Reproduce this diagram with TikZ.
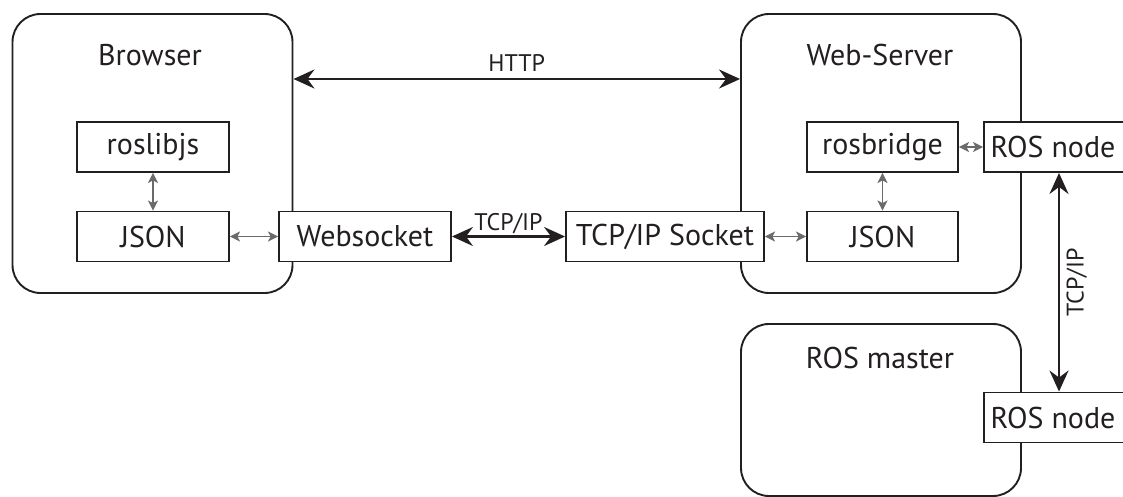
\documentclass[tikz,border=0pt]{standalone}
\usepackage{fontspec}
\setmainfont{PT Sans}
\usetikzlibrary{arrows.meta}
\definecolor{garrow}{HTML}{6A6A6A}
\definecolor{ink}{HTML}{231F20}
\begin{document}
\begin{tikzpicture}[x=1pt,y=-1pt,
  big/.style={draw=ink, line width=1.9pt, rounded corners=28pt, inner sep=0pt, minimum width=280pt},
  box/.style={draw=ink, line width=1.9pt, fill=white, inner sep=0pt, minimum height=50pt, text=ink, font=\fontsize{30}{34}\selectfont},
  title/.style={text=ink, font=\fontsize{30}{34}\selectfont},
  lbl/.style={text=ink, font=\fontsize{24}{28}\selectfont},
  bigarr/.style={draw=ink, line width=2.4pt, {Stealth[length=21pt,width=19pt,inset=7pt]}-{Stealth[length=21pt,width=19pt,inset=7pt]}},
  garr/.style={draw=garrow, line width=1.8pt, {Stealth[length=10pt,width=10pt,inset=2.5pt]}-{Stealth[length=10pt,width=10pt,inset=2.5pt]}}
]
\useasboundingbox (0,0) rectangle (1123,497);
% containers
\node[big, minimum height=279pt] (browser) at (152.5,153.5) {};
\node[big, minimum height=279pt] (webserver) at (881,153.5) {};
\node[big, minimum height=172pt] (rosmaster) at (881,410) {};
\node[title] (tbrowser) at (150,55) {Browser};
\node[title] (twebserver) at (880,55) {Web-Server};
\node[title] (trosmaster) at (880,358) {ROS master};
% inner boxes
\node[box, minimum width=152pt] (roslibjs) at (153,147) {roslibjs};
\node[box, minimum width=152pt] (json1) at (153,236.5) {JSON};
\node[box, minimum width=172pt] (websocket) at (365,236.5) {Websocket};
\node[box, minimum width=198pt] (tcpsock) at (665,236.5) {TCP/IP Socket};
\node[box, minimum width=151pt] (rosbridge) at (882.5,147) {rosbridge};
\node[box, minimum width=151pt] (json2) at (882.5,236.5) {JSON};
\node[box, minimum width=144pt] (rosnode1) at (1056,147) {\hspace*{-6pt}ROS node};
\node[box, minimum width=144pt] (rosnode2) at (1056,417.5) {\hspace*{-6pt}ROS node};
% big arrows
\coordinate (httpy) at (0,79);
\draw[bigarr] (browser.east |- httpy) -- node[lbl, above=3pt] (thttp) {HTTP} (webserver.west |- httpy);
\draw[bigarr] (websocket) -- node[lbl, above=-2pt] (ttcp1) {TCP/IP} (tcpsock);
\draw[bigarr] ([xshift=3pt]rosnode1.south) -- node[lbl, rotate=90, below=3pt, anchor=north] (ttcp2) {TCP/IP} ([xshift=3pt]rosnode2.north);
% gray arrows
\draw[garr] (roslibjs) -- (json1);
\draw[garr] (json1) -- (websocket);
\draw[garr] (rosbridge) -- (json2);
\draw[garr] (rosbridge) -- (rosnode1);
\draw[garr] (tcpsock) -- (json2);
\end{tikzpicture}
\end{document}
